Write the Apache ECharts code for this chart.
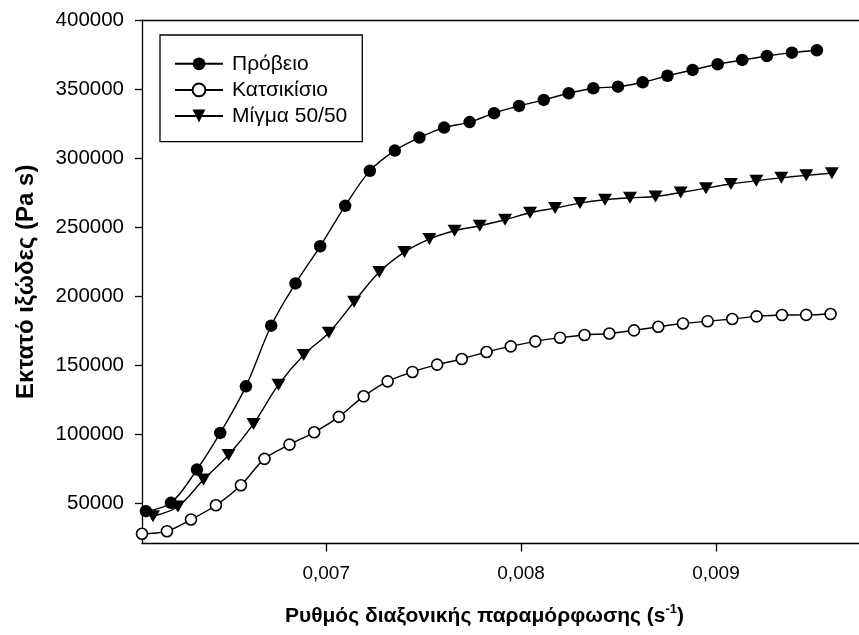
<!DOCTYPE html>
<html>
<head>
<meta charset="utf-8">
<script src="https://cdn.jsdelivr.net/npm/echarts@6/dist/echarts.min.js"></script>
<style>
  html, body { margin: 0; padding: 0; background: #fff; }
  #chart { width: 859px; height: 635px; }
</style>
</head>
<body>
<div id="chart"></div>
<script>
// Shear-rate (x) and extensional viscosity (y) readings for each milk type
const sheepX = [0.0060754, 0.0062036, 0.0063369, 0.0064564, 0.0065882, 0.0067179, 0.0068426, 0.0069692,
  0.0070974, 0.0072241, 0.0073523, 0.0074785, 0.0076051, 0.0077359, 0.0078615, 0.0079897, 0.0081164,
  0.0082446, 0.0083708, 0.0084974, 0.0086241, 0.0087513, 0.0088805, 0.0090087, 0.0091349, 0.0092615,
  0.0093897, 0.0095179];
const sheepY = [44570, 50640, 74710, 101240, 134930, 178800, 209380, 236270, 265550, 290850, 305520,
  314920, 322150, 326120, 332560, 337830, 342170, 347010, 350630, 351785, 354970, 359665, 363860,
  367980, 371090, 373980, 376360, 378100];

const goatX = [0.006055, 0.0061831, 0.0063062, 0.0064344, 0.0065626, 0.0066836, 0.0068118, 0.0069385,
  0.0070651, 0.0071923, 0.0073154, 0.0074426, 0.0075692, 0.0076959, 0.0078231, 0.0079472, 0.0080733,
  0.0082000, 0.0083256, 0.0084528, 0.0085795, 0.0087041, 0.0088308, 0.0089574, 0.0090836, 0.0092087,
  0.0093385, 0.0094631, 0.0095882];
const goatY = [28230, 30110, 38570, 48910, 63360, 82450, 92780, 101680, 112810, 127700, 138540, 145340,
  150610, 154730, 159790, 163840, 167460, 170130, 172080, 173170, 175410, 178010, 180390, 182060,
  183650, 185530, 186540, 186600, 187260];

const blendX = [0.0061113, 0.0062395, 0.0063708, 0.0064990, 0.0066272, 0.0067554, 0.0068846, 0.0070138,
  0.0071436, 0.0072728, 0.0074015, 0.0075297, 0.0076590, 0.0077882, 0.0079179, 0.0080462, 0.0081744,
  0.0083026, 0.0084308, 0.0085590, 0.0086897, 0.0088190, 0.0089487, 0.0090769, 0.0092072, 0.0093354,
  0.0094636, 0.0095949];
const blendY = [40955, 47967, 67484, 85194, 107743, 136156, 157625, 173745, 196153, 217623, 232079,
  241477, 247477, 251091, 255428, 260488, 263886, 267500, 269885, 271331, 272271, 275162, 278343,
  281306, 283764, 285788, 287595, 289186];

const seriesNames = ['Πρόβειο', 'Κατσικίσιο', 'Μίγμα 50/50'];
const xTicks = [0.007, 0.008, 0.009];
const yTicks = [50000, 100000, 150000, 200000, 250000, 300000, 350000, 400000];

const xMin = 0.006055, xMax = 0.009734;
const yMin = 21200, yMax = 400000;

const pairs = (xs, ys) => xs.map((x, i) => [x, ys[i]]);

const INK = '#000';
const FONT = 'Liberation Sans, Arial, sans-serif';
const downTriangle = 'path://M0,0 L14,0 L7,12 Z';

const lineCommon = {
  type: 'line',
  smooth: 0.35,
  lineStyle: { color: INK, width: 1.4 },
  emphasis: { disabled: true },
  z: 3
};

const chart = echarts.init(document.getElementById('chart'), null, { renderer: 'canvas' });
chart.setOption({
  animation: false,
  backgroundColor: '#fff',
  textStyle: { fontFamily: FONT, color: INK },
  grid: { left: 142, right: 0, top: 20, bottom: 91, containLabel: false },
  legend: {
    orient: 'vertical',
    left: 160,
    top: 35,
    data: seriesNames,
    itemWidth: 48,
    itemHeight: 16,
    itemGap: 5.1,
    padding: [18.3, 15, 15.2, 14],
    borderColor: INK,
    borderWidth: 1.3,
    backgroundColor: '#fff',
    selectedMode: false,
    textStyle: { fontSize: 21, color: INK, fontFamily: FONT, padding: [0, 0, 0, 4] }
  },
  xAxis: [{
    type: 'value',
    min: xMin,
    max: xMax,
    position: 'bottom',
    name: 'Ρυθμός διαξονικής παραμόρφωσης (s{sup|-1})',
    nameLocation: 'middle',
    nameGap: 59.5,
    nameTextStyle: {
      fontSize: 21, fontWeight: 'bold', color: INK, fontFamily: FONT,
      lineHeight: 27,
      padding: [0, 32, 0, 0],
      rich: {
        sup: { fontSize: 13, fontWeight: 'bold', color: INK, fontFamily: FONT, verticalAlign: 'top', lineHeight: 13 }
      }
    },
    axisLine: { show: true, onZero: false, lineStyle: { color: INK, width: 1.3 } },
    axisTick: { show: true, inside: false, length: 8, lineStyle: { color: INK, width: 1.3 }, customValues: xTicks },
    axisLabel: {
      show: true, margin: 21, fontSize: 19, color: INK, fontFamily: FONT,
      customValues: xTicks,
      formatter: v => v.toFixed(3).replace('.', ',')
    },
    splitLine: { show: false }
  }, {
    type: 'value',
    min: xMin,
    max: xMax,
    position: 'top',
    axisLine: { show: true, onZero: false, lineStyle: { color: INK, width: 1.3 } },
    axisTick: { show: false },
    axisLabel: { show: false },
    splitLine: { show: false }
  }],
  yAxis: {
    type: 'value',
    min: yMin,
    max: yMax,
    name: 'Εκτατό ιξώδες (Pa s)',
    nameLocation: 'middle',
    nameRotate: 90,
    nameGap: 104,
    nameTextStyle: { fontSize: 24, fontWeight: 'bold', color: INK, fontFamily: FONT },
    axisLine: { show: true, onZero: false, lineStyle: { color: INK, width: 1.3 } },
    axisTick: { show: true, inside: false, length: 7, lineStyle: { color: INK, width: 1.3 }, customValues: yTicks },
    axisLabel: {
      show: true, margin: 18, fontSize: 20.5, color: INK, fontFamily: FONT,
      customValues: yTicks,
      formatter: v => String(v)
    },
    splitLine: { show: false }
  },
  series: [
    Object.assign({}, lineCommon, {
      name: seriesNames[0],
      data: pairs(sheepX, sheepY),
      symbol: 'circle',
      symbolSize: 12.5,
      itemStyle: { color: INK, borderColor: INK, borderWidth: 0 }
    }),
    Object.assign({}, lineCommon, {
      name: seriesNames[1],
      data: pairs(goatX, goatY),
      symbol: 'circle',
      symbolSize: 11,
      itemStyle: { color: '#fff', borderColor: INK, borderWidth: 1.6 }
    }),
    Object.assign({}, lineCommon, {
      name: seriesNames[2],
      data: pairs(blendX, blendY),
      symbol: downTriangle,
      symbolSize: [14, 12],
      itemStyle: { color: INK, borderColor: INK, borderWidth: 0 }
    })
  ]
});
</script>
</body>
</html>
